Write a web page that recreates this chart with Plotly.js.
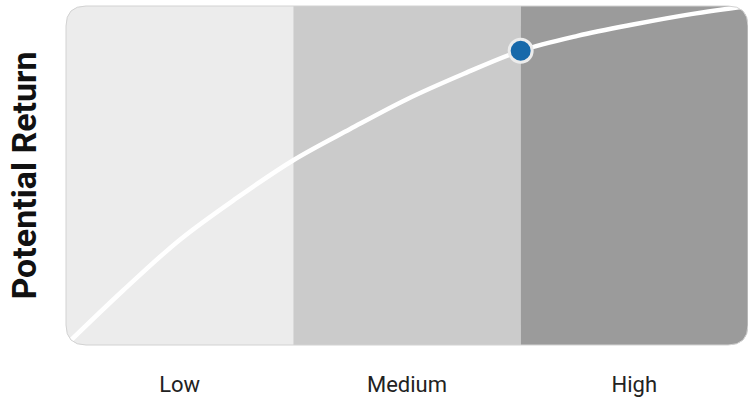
<!DOCTYPE html>
<html>
<head>
<meta charset="utf-8">
<script src="https://cdn.plot.ly/plotly-3.0.1.min.js"></script>
<style>html,body{margin:0;padding:0;background:#fff;}#chart{width:748px;height:400px;}</style>
</head>
<body>
<div id="chart"></div>
<script>
// Risk categories (x axis bands)
const categories = ['Low', 'Medium', 'High'];
const bandColors = ['#ececec', '#cbcbcb', '#9b9b9b'];
// Risk/return curve (x in band units 0..3, y as 0..1 return)
const curveX = [0, 0.25, 0.5, 0.75, 1.0, 1.25, 1.5, 1.75, 2.0, 2.25, 2.5, 2.75, 3.0];
const curveY = [0, 0.160, 0.310, 0.433, 0.545, 0.637, 0.725, 0.800, 0.868, 0.912, 0.946, 0.976, 1.0];
// Highlighted point
const pointX = [2];
const pointY = [0.868];

const W = 682, H = 339, R = 20;
const rx = R / W, ry = R / H;
const b1 = 1 / 3, b2 = 2 / 3;

const shapes = [
  {type: 'path', xref: 'paper', yref: 'paper', layer: 'below', line: {width: 0}, fillcolor: bandColors[0],
   path: `M ${b1},0 L ${rx},0 Q 0,0 0,${ry} L 0,${1 - ry} Q 0,1 ${rx},1 L ${b1},1 Z`},
  {type: 'path', xref: 'paper', yref: 'paper', layer: 'below', line: {width: 0}, fillcolor: bandColors[1],
   path: `M ${b1},0 L ${b2},0 L ${b2},1 L ${b1},1 Z`},
  {type: 'path', xref: 'paper', yref: 'paper', layer: 'below', line: {width: 0}, fillcolor: bandColors[2],
   path: `M ${b2},0 L ${1 - rx},0 Q 1,0 1,${ry} L 1,${1 - ry} Q 1,1 ${1 - rx},1 L ${b2},1 Z`},
  {type: 'path', xref: 'paper', yref: 'paper', layer: 'above', line: {width: 1, color: '#d2d2d2'}, fillcolor: 'rgba(0,0,0,0)',
   path: `M ${rx},0 L ${1 - rx},0 Q 1,0 1,${ry} L 1,${1 - ry} Q 1,1 ${1 - rx},1 L ${rx},1 Q 0,1 0,${1 - ry} L 0,${ry} Q 0,0 ${rx},0 Z`}
];

const traces = [
  {x: curveX, y: curveY, type: 'scatter', mode: 'lines',
   line: {color: '#ffffff', width: 4.5, shape: 'spline', smoothing: 1.0}, hoverinfo: 'skip', cliponaxis: true},
  {x: pointX, y: pointY, type: 'scatter', mode: 'markers',
   marker: {color: '#1769aa', size: 23, line: {color: '#ececec', width: 3}}, cliponaxis: false}
];

const layout = {
  width: 748, height: 400,
  margin: {l: 66, r: 0, t: 6, b: 55},
  paper_bgcolor: '#ffffff', plot_bgcolor: 'rgba(0,0,0,0)',
  showlegend: false,
  font: {family: 'Roboto, sans-serif', color: '#111'},
  xaxis: {range: [0, 3], tickvals: [0.5, 1.5, 2.5], ticktext: categories,
          showgrid: false, zeroline: false, showline: false, ticks: '',
          ticklabelstandoff: 24, tickfont: {size: 22, color: '#222', family: 'Roboto, sans-serif'}, fixedrange: true},
  yaxis: {range: [0, 1], showgrid: false, zeroline: false, showline: false, showticklabels: false, ticks: '',
          title: {text: 'Potential Return', standoff: 18, font: {size: 34, color: '#111', family: 'Roboto, sans-serif', weight: 'bold'}},
          fixedrange: true},
  shapes: shapes
};

Plotly.newPlot('chart', traces, layout, {displayModeBar: false, staticPlot: true});
</script>
</body>
</html>
